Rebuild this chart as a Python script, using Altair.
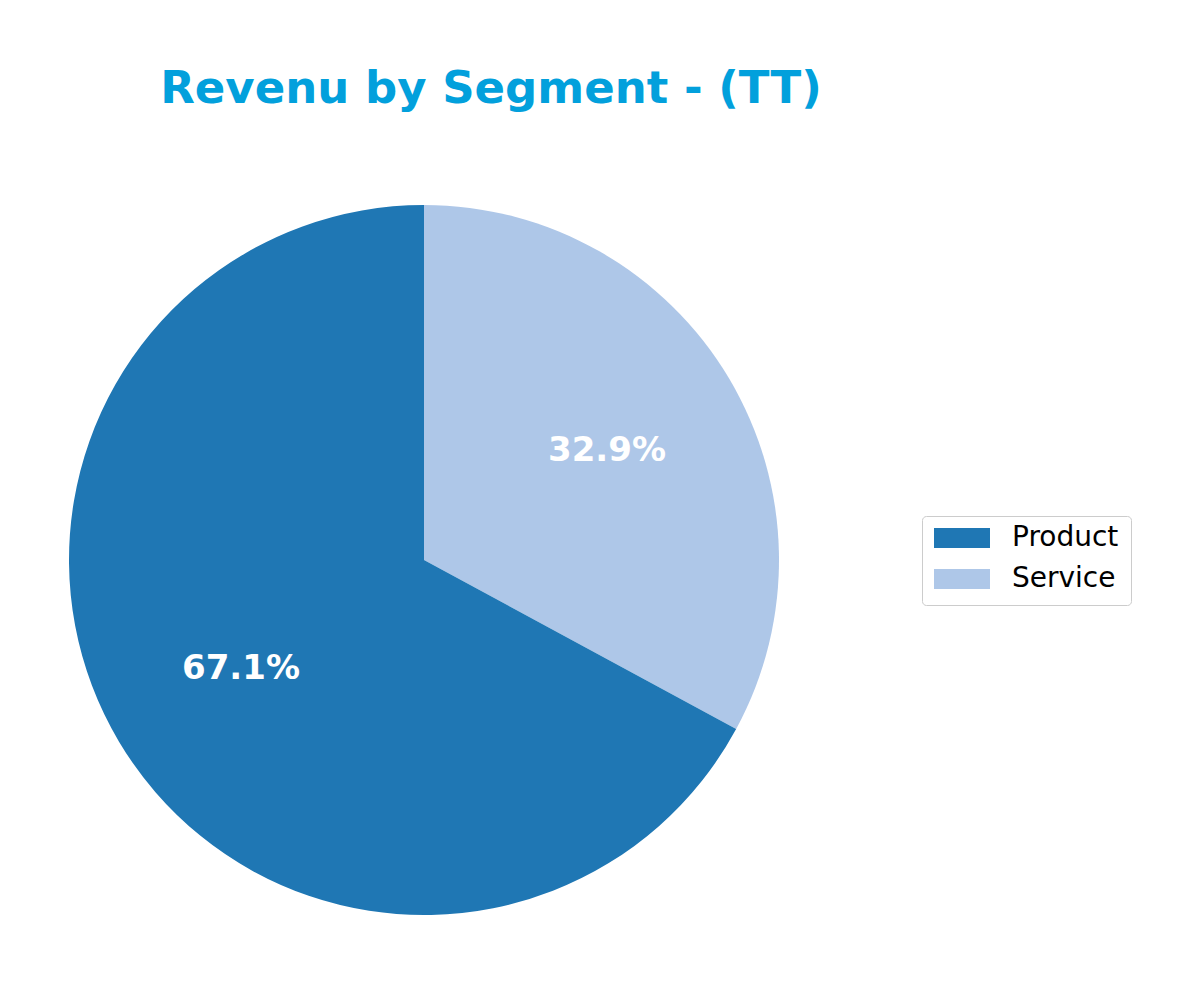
import altair as alt
import pandas as pd

segments = ["Service", "Product"]
shares = [32.9, 67.1]
stack_order = [0, 1]
legend_order = ["Product", "Service"]
colors = ["#1f77b4", "#aec7e8"]

df = pd.DataFrame({"segment": segments, "value": shares, "ord": stack_order})

R = 355
W = 2 * 416
H = 2 * 432
TOP = 120

base = alt.Chart(df).encode(
    theta=alt.Theta("value:Q", stack=True),
    order=alt.Order("ord:Q"),
)

arcs = base.mark_arc(outerRadius=R).encode(
    color=alt.Color(
        "segment:N",
        scale=alt.Scale(domain=legend_order, range=colors),
        legend=alt.Legend(
            title=None,
            orient="none",
            legendX=914,
            legendY=388,
            symbolType="M-1,-0.357L1,-0.357L1,0.357L-1,0.357Z",
            symbolSize=3136,
            symbolStrokeWidth=0,
            labelFont="DejaVu Sans",
            labelFontSize=28,
            labelColor="#000000",
            labelOffset=22,
            clipHeight=20,
            padding=12,
            rowPadding=13,
            strokeColor="#cccccc",
            fillColor="#ffffff",
            cornerRadius=4,
        ),
    )
)

labels = base.mark_text(
    radius=0.6 * R,
    font="DejaVu Sans",
    fontWeight="bold",
    fontSize=34,
    color="white",
    align="center",
    baseline="middle",
).encode(text="label:N").transform_calculate(
    label="format(datum.value, '.1f') + '%'"
)

chart = (
    alt.layer(arcs, labels)
    .properties(
        width=W,
        height=H,
        title=alt.TitleParams(
            "Revenu by Segment - (TT)",
            font="DejaVu Sans",
            fontSize=45,
            fontWeight="bold",
            color="#02A0DC",
            anchor="middle",
            dx=67,
            dy=43,
            offset=23,
            baseline="alphabetic",
        ),
        autosize=alt.AutoSizeParams(type="none"),
        padding={"left": 0, "top": TOP, "right": 1184 - W, "bottom": 0},
    )
    .configure_view(stroke=None)
)

chart.save("out.html", embed_options={"renderer": "svg", "actions": False})
